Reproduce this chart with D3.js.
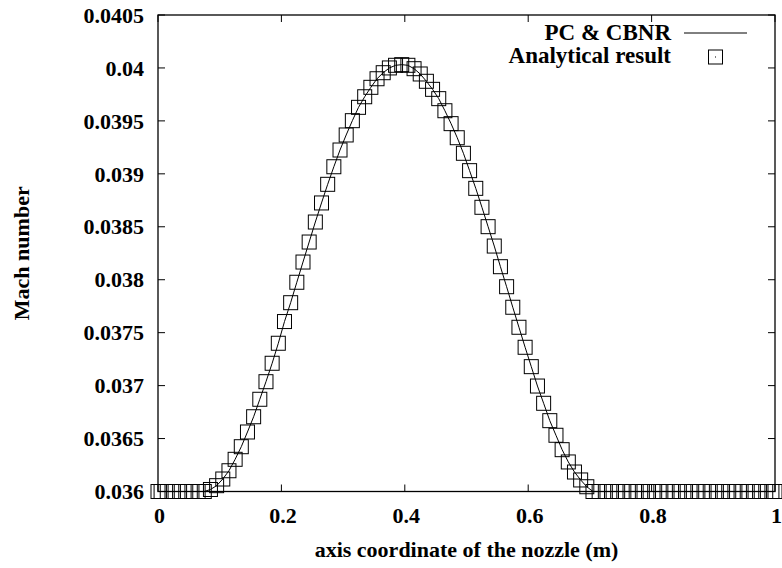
<!DOCTYPE html>
<html>
<head>
<meta charset="utf-8">
<script src="https://cdn.jsdelivr.net/npm/d3@7"></script>
<style>
  body { margin: 0; background: #fff; }
</style>
</head>
<body>
<div id="chart"></div>
<script>
const SIZE = { width: 782, height: 568 }
const MARGIN = { left: 158, right: 7, top: 15, bottom: 76.5 }
const FONT = "'Liberation Serif', 'Times New Roman', Times, 'DejaVu Serif', serif";

// analytical result: cell centres plus the two boundary points
const xAnalytical = [0,
  0.005, 0.015, 0.025, 0.035, 0.045, 0.055, 0.065, 0.075, 0.085, 0.095,
  0.105, 0.115, 0.125, 0.135, 0.145, 0.155, 0.165, 0.175, 0.185, 0.195,
  0.205, 0.215, 0.225, 0.235, 0.245, 0.255, 0.265, 0.275, 0.285, 0.295,
  0.305, 0.315, 0.325, 0.335, 0.345, 0.355, 0.365, 0.375, 0.385, 0.395,
  0.405, 0.415, 0.425, 0.435, 0.445, 0.455, 0.465, 0.475, 0.485, 0.495,
  0.505, 0.515, 0.525, 0.535, 0.545, 0.555, 0.565, 0.575, 0.585, 0.595,
  0.605, 0.615, 0.625, 0.635, 0.645, 0.655, 0.665, 0.675, 0.685, 0.695,
  0.705, 0.715, 0.725, 0.735, 0.745, 0.755, 0.765, 0.775, 0.785, 0.795,
  0.805, 0.815, 0.825, 0.835, 0.845, 0.855, 0.865, 0.875, 0.885, 0.895,
  0.905, 0.915, 0.925, 0.935, 0.945, 0.955, 0.965, 0.975, 0.985, 0.995,
  1];
const machAnalytical = [0.036,
  0.036, 0.036, 0.036, 0.036, 0.036, 0.036, 0.036, 0.036, 0.036019, 0.036055,
  0.036118, 0.036196, 0.036304, 0.036423, 0.036562, 0.036706, 0.036871, 0.037037, 0.037211, 0.037400,
  0.037605, 0.037783, 0.037976, 0.038167, 0.038356, 0.038545, 0.038725, 0.038901, 0.039067, 0.039225,
  0.039367, 0.039502, 0.039628, 0.039728, 0.039817, 0.039898, 0.039955, 0.040000, 0.040025, 0.040031,
  0.040025, 0.039993, 0.039943, 0.039874, 0.039798, 0.039710, 0.039596, 0.039474, 0.039341, 0.039194,
  0.039030, 0.038863, 0.038684, 0.038501, 0.038318, 0.038123, 0.037934, 0.037740, 0.037551, 0.037362,
  0.037179, 0.036996, 0.036833, 0.036669, 0.036531, 0.036395, 0.036279, 0.036184, 0.036109, 0.036045,
  0.036, 0.036, 0.036, 0.036, 0.036, 0.036, 0.036, 0.036, 0.036, 0.036,
  0.036, 0.036, 0.036, 0.036, 0.036, 0.036, 0.036, 0.036, 0.036, 0.036,
  0.036, 0.036, 0.036, 0.036, 0.036, 0.036, 0.036, 0.036, 0.036, 0.036,
  0.036];
// PC & CBNR solution drawn as a line through the same stations
const xNumerical = xAnalytical;
const machNumerical = machAnalytical;

const xTicks = [0, 0.2, 0.4, 0.6, 0.8, 1];
const yTicks = [0.036, 0.0365, 0.037, 0.0375, 0.038, 0.0385, 0.039, 0.0395, 0.04, 0.0405];
const legendLabels = ["PC & CBNR", "Analytical result"];

const svg = d3.select("#chart").append("svg")
    .attr("width", SIZE.width)
    .attr("height", SIZE.height)
    .attr("font-family", FONT)
    .attr("font-weight", "bold");

const xScale = d3.scaleLinear().domain([0, 1]).range([MARGIN.left, SIZE.width - MARGIN.right]);
const yScale = d3.scaleLinear().domain([0.036, 0.0405]).range([SIZE.height - MARGIN.bottom, MARGIN.top]);
const fmt = d => String(+d.toFixed(4));

const x0 = xScale.range()[0], x1 = xScale.range()[1];
const y0 = yScale.range()[0], y1 = yScale.range()[1];

// ticks: inward on all four sides
const tickLen = 7;
const ticks = svg.append("g").attr("stroke", "#000").attr("stroke-width", 1);
xTicks.forEach(t => {
  ticks.append("line").attr("x1", xScale(t)).attr("x2", xScale(t)).attr("y1", y0).attr("y2", y0 - tickLen);
  ticks.append("line").attr("x1", xScale(t)).attr("x2", xScale(t)).attr("y1", y1).attr("y2", y1 + tickLen);
});
yTicks.forEach(t => {
  ticks.append("line").attr("x1", x0).attr("x2", x0 + tickLen).attr("y1", yScale(t)).attr("y2", yScale(t));
  ticks.append("line").attr("x1", x1).attr("x2", x1 - tickLen).attr("y1", yScale(t)).attr("y2", yScale(t));
});

svg.append("g").selectAll("text").data(xTicks).enter().append("text")
    .attr("x", d => xScale(d) + 1.5)
    .attr("y", 523)
    .attr("text-anchor", "middle")
    .attr("font-size", 22)
    .text(fmt);

svg.append("g").selectAll("text").data(yTicks).enter().append("text")
    .attr("x", 144)
    .attr("y", d => yScale(d))
    .attr("dy", "0.35em")
    .attr("text-anchor", "end")
    .attr("font-size", 22)
    .text(fmt);

svg.append("text")
    .attr("x", (x0 + x1) / 2)
    .attr("y", 557)
    .attr("text-anchor", "middle")
    .attr("font-size", 22)
    .text("axis coordinate of the nozzle (m)");

svg.append("text")
    .attr("transform", `translate(29, ${(y0 + y1) / 2}) rotate(-90)`)
    .attr("text-anchor", "middle")
    .attr("font-size", 22)
    .text("Mach number");

// data
const numPts = xNumerical.map((x, i) => [x, machNumerical[i]]);
const anaPts = xAnalytical.map((x, i) => [x, machAnalytical[i]]);
const line = d3.line().x(d => xScale(d[0])).y(d => yScale(d[1]));

svg.append("path")
    .attr("d", line(numPts))
    .attr("fill", "none")
    .attr("stroke", "#000")
    .attr("stroke-width", 1);

const BOX = 14;
svg.append("g").selectAll("rect").data(anaPts).enter().append("rect")
    .attr("x", d => xScale(d[0]) - BOX / 2)
    .attr("y", d => yScale(d[1]) - BOX / 2)
    .attr("width", BOX)
    .attr("height", BOX)
    .attr("fill", "none")
    .attr("stroke", "#000")
    .attr("stroke-width", 1);

// frame
svg.append("rect")
    .attr("x", x0).attr("y", y1)
    .attr("width", x1 - x0).attr("height", y0 - y1)
    .attr("fill", "none")
    .attr("stroke", "#000")
    .attr("stroke-width", 1.3);

// legend
const legend = svg.append("g");
legend.selectAll("text").data(legendLabels).enter().append("text")
    .attr("x", 671)
    .attr("y", (d, i) => 40 + i * 23)
    .attr("text-anchor", "end")
    .attr("font-size", 23)
    .text(d => d);
legend.append("line")
    .attr("x1", 684).attr("x2", 747).attr("y1", 33).attr("y2", 33)
    .attr("stroke", "#000").attr("stroke-width", 1);
legend.append("rect")
    .attr("x", 715.5 - BOX / 2).attr("y", 57 - BOX / 2)
    .attr("width", BOX).attr("height", BOX)
    .attr("fill", "none").attr("stroke", "#000").attr("stroke-width", 1);
legend.append("rect")
    .attr("x", 715).attr("y", 56.5).attr("width", 1).attr("height", 1)
    .attr("fill", "#000");
</script>
</body>
</html>
